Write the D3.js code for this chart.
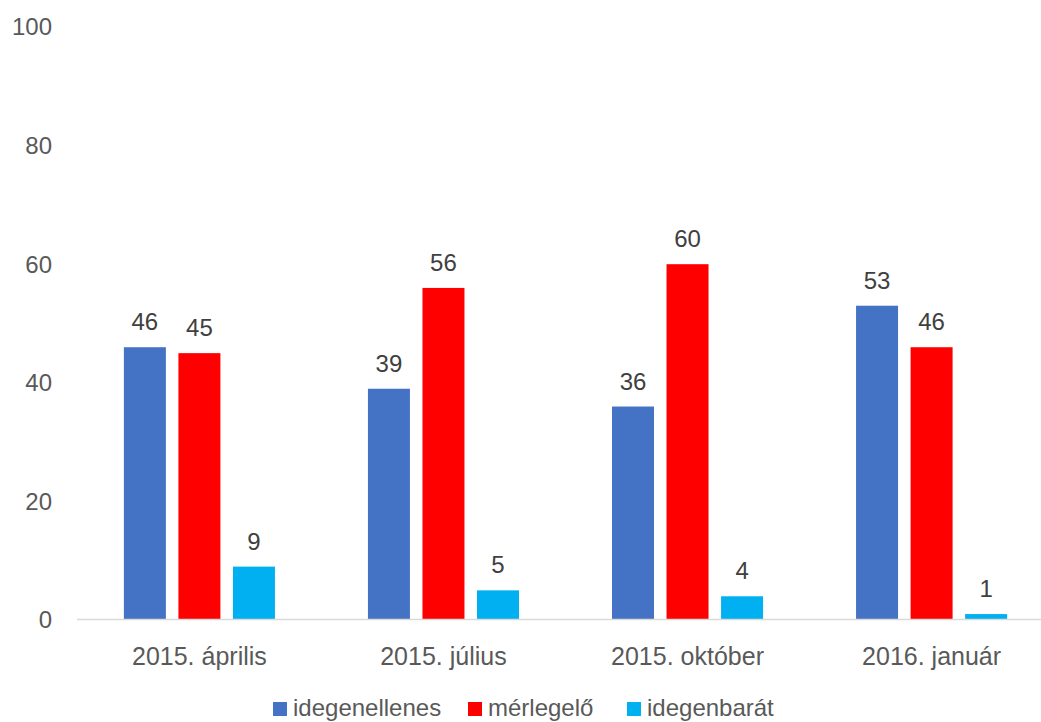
<!DOCTYPE html>
<html lang="hu">
<head>
  <meta charset="UTF-8">
  <title>idegenellenesség</title>
  <style>
    html, body { margin: 0; padding: 0; background: #fff; }
    svg { display: block; }
  </style>
</head>
<body>
  <svg id="svg" width="1041" height="722" font-family="'Liberation Sans', Arial, sans-serif"></svg>
  <script src="https://d3js.org/d3.v7.min.js"></script>
  <script>
    // adatok
    var categories = ["2015. április", "2015. július", "2015. október", "2016. január"];
    var seriesNames = ["idegenellenes", "mérlegelő", "idegenbarát"];
    var idegenellenes = [46, 39, 36, 53];
    var merlegelo = [45, 56, 60, 46];
    var idegenbarat = [9, 5, 4, 1];
    var yTicks = [0, 20, 40, 60, 80, 100];

    var colors = ["#4472C4", "#FF0000", "#00B0F0"];
    var values = [idegenellenes, merlegelo, idegenbarat];

    var svg = d3.select("svg"),
      width = +svg.attr("width");

    var x0 = d3.scaleBand()
      .domain(categories)
      .range([77.5, 1053.5])
      .paddingInner(0.381)
      .paddingOuter(0.19);

    var x1 = d3.scaleBand()
      .domain(seriesNames)
      .range([0, x0.bandwidth()])
      .paddingInner(0.23)
      .paddingOuter(0);

    var y = d3.scaleLinear()
      .domain([0, 100])
      .range([620, 27]);

    // y tengely feliratai
    svg.append("g")
      .selectAll("text")
      .data(yTicks)
      .enter().append("text")
      .attr("x", 52)
      .attr("y", function (d) { return y(d); })
      .attr("dy", "0.35em")
      .attr("text-anchor", "end")
      .attr("font-size", 24)
      .attr("fill", "#595959")
      .text(function (d) { return d; });

    // oszlopok
    var group = svg.append("g")
      .selectAll("g")
      .data(categories)
      .enter().append("g")
      .attr("transform", function (d) { return "translate(" + x0(d) + ",0)"; });

    group.selectAll("rect")
      .data(function (d, i) {
        return seriesNames.map(function (s, j) { return { key: s, value: values[j][i], color: colors[j] }; });
      })
      .enter().append("rect")
      .attr("x", function (d) { return x1(d.key); })
      .attr("y", function (d) { return y(d.value); })
      .attr("width", x1.bandwidth())
      .attr("height", function (d) { return y(0) - y(d.value); })
      .attr("fill", function (d) { return d.color; });

    group.selectAll("text")
      .data(function (d, i) {
        return seriesNames.map(function (s, j) { return { key: s, value: values[j][i] }; });
      })
      .enter().append("text")
      .attr("x", function (d) { return x1(d.key) + x1.bandwidth() / 2; })
      .attr("y", function (d) { return y(d.value) - 17; })
      .attr("text-anchor", "middle")
      .attr("font-size", 24)
      .attr("fill", "#404040")
      .text(function (d) { return d.value; });

    // x tengely
    svg.append("line")
      .attr("x1", 77)
      .attr("x2", width)
      .attr("y1", y(0) - 0.5)
      .attr("y2", y(0) - 0.5)
      .attr("stroke", "#d9d9d9")
      .attr("stroke-width", 1.5);

    svg.append("g")
      .selectAll("text")
      .data(categories)
      .enter().append("text")
      .attr("x", function (d) { return x0(d) + x0.bandwidth() / 2; })
      .attr("y", 665)
      .attr("text-anchor", "middle")
      .attr("font-size", 25)
      .attr("fill", "#595959")
      .text(function (d) { return d; });

    // jelmagyarázat
    var legendX = [273, 468, 627];
    var legend = svg.append("g")
      .selectAll("g")
      .data(seriesNames)
      .enter().append("g")
      .attr("transform", function (d, i) { return "translate(" + legendX[i] + ",702)"; });

    legend.append("rect")
      .attr("width", 14)
      .attr("height", 14)
      .attr("fill", function (d, i) { return colors[i]; });

    legend.append("text")
      .attr("x", 20)
      .attr("y", 14)
      .attr("font-size", 24)
      .attr("fill", "#595959")
      .text(function (d) { return d; });
  </script>
</body>
</html>
